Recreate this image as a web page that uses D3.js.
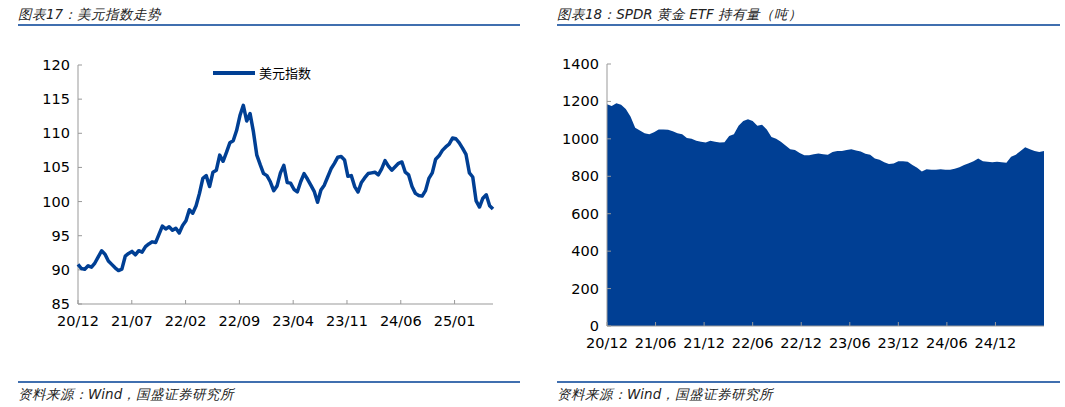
<!DOCTYPE html>
<html><head><meta charset="utf-8">
<script src="https://cdn.jsdelivr.net/npm/d3@7"></script>
<style>body{margin:0;background:#fff}svg{display:block}</style>
</head><body><svg id="c" width="1065" height="407"></svg>
<script>
// Left chart: USD index, sampled evenly from 2020-12 to 2025-06
const dxyValues = [90.8,90.2,90.1,90.6,90.4,91.0,91.9,92.8,92.3,91.3,90.8,90.3,89.9,90.1,92.0,92.4,92.7,92.2,92.8,92.6,93.4,93.8,94.1,94.0,95.2,96.4,96.0,96.3,95.8,96.1,95.4,96.5,97.2,98.8,98.3,99.4,101.2,103.4,103.8,102.2,104.3,104.6,106.8,105.9,107.2,108.6,108.9,110.4,112.6,114.1,111.8,112.9,110.2,106.8,105.4,104.1,103.8,102.9,101.6,102.3,104.2,105.3,102.8,102.7,101.8,101.4,102.9,104.1,103.3,102.4,101.5,99.9,101.7,102.4,103.6,104.8,105.6,106.5,106.6,106.1,103.7,103.8,102.2,101.4,102.8,103.5,104.1,104.2,104.3,103.9,104.8,106.0,105.2,104.6,105.1,105.6,105.8,104.3,103.9,102.2,101.2,100.9,100.8,101.6,103.4,104.2,106.2,106.7,107.5,108.0,108.4,109.3,109.2,108.6,107.8,106.9,104.2,103.6,100.1,99.2,100.5,101.0,99.4,98.9];
const dxyTicks = ["20/12","21/07","22/02","22/09","23/04","23/11","24/06","25/01"];
const dxyYTicks = [85,90,95,100,105,110,115,120];
// Right chart: SPDR gold ETF holdings (tonnes), sampled evenly from 2020-12 to 2025-06
const gldValues = [1185,1175,1190,1182,1160,1120,1060,1045,1030,1025,1035,1050,1050,1048,1040,1030,1025,1005,1000,990,985,980,990,985,980,982,1015,1025,1070,1095,1105,1095,1070,1075,1050,1010,1000,985,965,945,940,925,912,912,918,922,918,915,930,935,935,940,945,938,932,920,915,895,888,875,865,868,880,880,878,860,845,825,838,835,835,838,835,835,840,848,860,870,880,895,880,878,875,878,875,872,905,915,935,955,945,935,930,935];
const gldTicks = ["20/12","21/06","21/12","22/06","22/12","23/06","23/12","24/06","24/12"];
const gldYTicks = [0,200,400,600,800,1000,1200,1400];
// tick spacing in months and total span in months (category axis)
const dxyTickMonths = 7, gldTickMonths = 6, spanMonths = 54;

const svg = d3.select("#c");
const BLUE = "#003f94", FONT = "Verdana, 'DejaVu Sans', sans-serif";

[[18,520,"图表17：美元指数走势"],[557,1060,"图表18：SPDR 黄金 ETF 持有量（吨）"]].forEach(([x0,x1,t])=>{
  svg.append("text").attr("x",x0).attr("y",19).attr("font-family",FONT).attr("font-style","italic").attr("font-size",13.5).attr("fill","#222").text(t);
  svg.append("line").attr("x1",x0).attr("x2",x1).attr("y1",25).attr("y2",25).attr("stroke",BLUE).attr("stroke-width",1.5);
  svg.append("line").attr("x1",x0).attr("x2",x1).attr("y1",382).attr("y2",382).attr("stroke",BLUE).attr("stroke-width",1.5);
  svg.append("text").attr("x",x0).attr("y",399).attr("font-family",FONT).attr("font-style","italic").attr("font-size",13.5).attr("fill","#222").text("资料来源：Wind，国盛证券研究所");
});

function axes(g,x,y,xTicks,stepMonths,yTicks,x0,x1,y0,y1){
  g.append("line").attr("x1",x0).attr("x2",x0).attr("y1",y1).attr("y2",y0).attr("stroke","#999");
  g.append("line").attr("x1",x0).attr("x2",x1).attr("y1",y0).attr("y2",y0).attr("stroke","#999");
  yTicks.forEach(v=>{
    g.append("line").attr("x1",x0).attr("x2",x0+4).attr("y1",y(v)).attr("y2",y(v)).attr("stroke","#999");
    g.append("text").attr("x",x0-8).attr("y",y(v)+5).attr("text-anchor","end").attr("font-family",FONT).attr("font-size",14.5).attr("fill","#000").text(v);
  });
  xTicks.forEach((t,k)=>{
    const xx=x(k*stepMonths);
    g.append("line").attr("x1",xx).attr("x2",xx).attr("y1",y0).attr("y2",y0-4).attr("stroke","#999");
    g.append("text").attr("x",xx).attr("y",y0+22).attr("text-anchor","middle").attr("font-family",FONT).attr("font-size",14.5).attr("fill","#000").text(t);
  });
}

// Left
{
  const x0=78,x1=493,y0=304,y1=65;
  const x=d3.scaleLinear().domain([0,spanMonths]).range([x0,x1]);
  const m=i=>i*spanMonths/(dxyValues.length-1);
  const y=d3.scaleLinear().domain([85,120]).range([y0,y1]);
  const g=svg.append("g");
  axes(g,x,y,dxyTicks,dxyTickMonths,dxyYTicks,x0,x1,y0,y1);
  g.append("path").datum(dxyValues).attr("fill","none").attr("stroke",BLUE).attr("stroke-width",3.5).attr("stroke-linejoin","round")
    .attr("d",d3.line().x((d,i)=>x(m(i))).y(d=>y(d)));
  g.append("line").attr("x1",213).attr("x2",255).attr("y1",73).attr("y2",73).attr("stroke",BLUE).attr("stroke-width",4);
  g.append("text").attr("x",259).attr("y",78).attr("font-family","'Noto Sans CJK SC', sans-serif").attr("font-size",13).attr("fill","#000").text("美元指数");
}
// Right
{
  const x0=607,x1=1044,y0=326,y1=64;
  const x=d3.scaleLinear().domain([0,spanMonths]).range([x0,x1]);
  const m=i=>i*spanMonths/(gldValues.length-1);
  const y=d3.scaleLinear().domain([0,1400]).range([y0,y1]);
  const g=svg.append("g");
  g.append("path").datum(gldValues).attr("fill",BLUE)
    .attr("d",d3.area().x((d,i)=>x(m(i))).y0(y0).y1(d=>y(d)));
  axes(g,x,y,gldTicks,gldTickMonths,gldYTicks,x0,x1,y0,y1);
}
</script></body></html>
